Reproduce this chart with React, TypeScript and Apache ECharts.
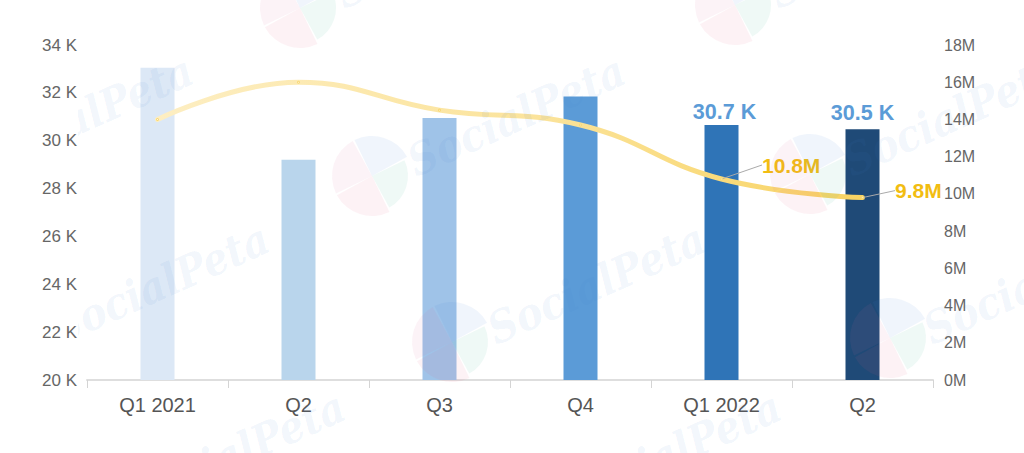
import React, { useEffect, useRef } from 'react';
import * as echarts from 'echarts';

const categories = ['Q1 2021', 'Q2', 'Q3', 'Q4', 'Q1 2022', 'Q2'];
const users = [33050, 29200, 30950, 31850, 30660, 30480];
const revenue = [14.0, 16.0, 14.5, 13.7, 10.8, 9.8];
const barColors = ['#dce8f6', '#b9d5ec', '#9fc3e8', '#5b9bd7', '#2f74b7', '#1f4a77'];
const userTicks = { min: 20000, max: 34000, interval: 2000 };
const revenueTicks = { min: 0, max: 18, interval: 2 };

// faint SocialPeta watermark, repeats over the whole picture
const watermark = (x: number, y: number) => ({
  type: 'text',
  x,
  y,
  rotation: 0.42,
  silent: true,
  z: 20,
  style: {
    text: 'SocialPeta',
    font: 'italic bold 44px "DejaVu Serif Condensed", "Liberation Serif"',
    fill: '#4a7fd0',
    opacity: 0.08,
    textVerticalAlign: 'middle',
  },
});

const logo = (cx: number, cy: number) => {
  const quarter = (from: number, fill: string, r: number) => ({
    type: 'sector',
    silent: true,
    z: 20,
    shape: { cx, cy, r, r0: 0, startAngle: from, endAngle: from + Math.PI / 2 - 0.05 },
    style: { fill, opacity: 0.08 },
  });
  return [
    quarter(-0.45, '#39b38a', 36),
    quarter(1.12, '#e2557e', 40),
    quarter(2.69, '#d9609a', 40),
    quarter(4.26, '#3f7fd8', 40),
  ];
};

const App: React.FC = () => {
  const chartRef = useRef<HTMLDivElement>(null);

  useEffect(() => {
    document.body.style.margin = '0';
    if (chartRef.current) {
      const myChart = echarts.init(chartRef.current, undefined, { renderer: 'svg' });
      const axisText = { color: '#666', fontFamily: 'Liberation Sans' };
      const option: any = {
        animation: false,
        grid: { left: 87, right: 91, top: 45, bottom: 73 },
        xAxis: {
          type: 'category',
          data: categories,
          axisLine: { lineStyle: { color: '#dedede', width: 2 } },
          axisTick: { show: true, length: 8, lineStyle: { color: '#d4d4d4' } },
          axisLabel: { ...axisText, fontSize: 20, margin: 15, color: '#555' },
        },
        yAxis: [
          {
            type: 'value',
            ...userTicks,
            z: 30,
            axisLine: { show: false },
            axisTick: { show: false },
            splitLine: { show: false },
            axisLabel: { ...axisText, fontSize: 17, margin: 10, formatter: (v: number) => `${v / 1000} K` },
          },
          {
            type: 'value',
            ...revenueTicks,
            position: 'right',
            z: 30,
            axisLine: { show: false },
            axisTick: { show: false },
            splitLine: { show: false },
            axisLabel: { ...axisText, fontSize: 16, margin: 11, formatter: (v: number) => `${v}M` },
          },
        ],
        series: [
          {
            type: 'bar',
            barWidth: 34,
            labelLayout: (params: any) =>
              params.dataIndex === 4 ? { dx: 3, dy: 2 } : { dx: 0, dy: -1 },
            data: users.map((value, i) => ({
              value,
              itemStyle: { color: barColors[i] },
              label: {
                show: i >= 4,
                position: 'top',
                distance: 4,
                formatter: `${(value / 1000).toFixed(1)} K`,
                color: '#5b9bd7',
                fontSize: 21.5,
                fontWeight: 'bold',
                fontFamily: 'Liberation Sans',
              },
            })),
          },
          {
            type: 'line',
            yAxisIndex: 1,
            smooth: 0.45,
            showSymbol: true,
            showAllSymbol: true,
            symbolSize: 1,
            itemStyle: { color: '#f8d978' },
            lineStyle: {
              width: 5,
              cap: 'round',
              color: new echarts.graphic.LinearGradient(0, 0, 1, 0, [
                { offset: 0, color: '#fdeec2' },
                { offset: 0.55, color: '#fbe39a' },
                { offset: 1, color: '#f8d362' },
              ]),
            },
            labelLine: { show: true, lineStyle: { color: '#aaa', width: 1 } },
            labelLayout: (params: any) =>
              params.dataIndex === 4 ? { dx: 34, dy: -14 } : { dx: 26, dy: -7 },
            data: revenue.map((value, i) => ({
              value,
              label: {
                show: i >= 4,
                position: 'right',
                formatter: `${value}M`,
                color: '#f2bd12',
                fontSize: 21,
                fontWeight: 'bold',
                fontFamily: 'Liberation Sans',
              },
            })),
          },
        ],
        graphic: {
          elements: [
            ...logo(300, 8),
            ...logo(372, 176),
            ...logo(735, 5),
            ...logo(810, 174),
            ...logo(452, 342),
            ...logo(890, 338),
            watermark(338, -5),
            watermark(772, -5),
            watermark(-22, 163),
            watermark(410, 163),
            watermark(846, 163),
            watermark(54, 331),
            watermark(490, 331),
            watermark(926, 331),
            watermark(130, 499),
            watermark(566, 499),
            // watermark stops short of the left axis labels
            { type: 'rect', z: 21, silent: true, shape: { x: 0, y: 0, width: 78, height: 453 }, style: { fill: '#fff' } },
          ],
        },
      };

      myChart.setOption(option);

      return () => {
        myChart.dispose();
      };
    }
  }, []);

  return <div ref={chartRef} style={{ width: 1024, height: 453 }} />;
};

export default App;
